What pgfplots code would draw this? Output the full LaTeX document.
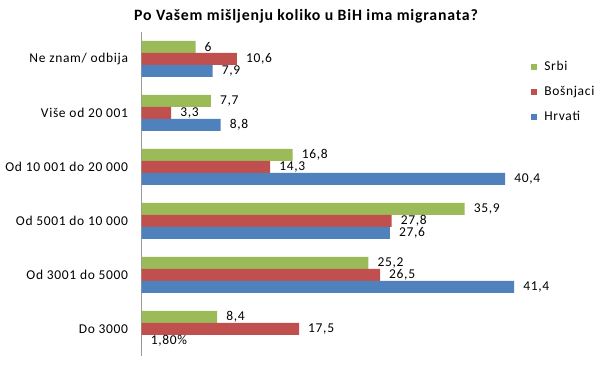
\documentclass[border=0pt]{standalone}
\usepackage{fontspec}
\setmainfont{Carlito}[LetterSpace=5]
\usepackage{pgfplots}
\pgfplotsset{compat=1.18}
\definecolor{cg}{HTML}{9BBB59}
\definecolor{cr}{HTML}{C0504D}
\definecolor{cb}{HTML}{4F81BD}
\begin{document}
\begin{tikzpicture}
\useasboundingbox (0,0) rectangle (606bp,375bp);
\node[font=\bfseries\fontsize{15.8bp}{18bp}\selectfont] at (306bp,359bp) {Po Vašem mišljenju koliko u BiH ima migranata?};
\begin{axis}[
  at={(141.5bp,19bp)}, anchor=south west,
  scale only axis, width=405bp, height=324bp,
  xmin=0, xmax=45, ymin=-0.5, ymax=5.5,
  xbar, bar width=12bp,
  axis x line=none, axis y line*=left,
  axis line style={draw=gray!80, line width=0.8bp},
  xtick=\empty,
  ytick={0,...,5},
  yticklabels={Do 3000, Od 3001 do 5000, Od 5001 do 10 000, Od 10 001 do 20 000, Više od 20 001, Ne znam/ odbija},
  ytick style={draw=none},
  yticklabel style={font=\fontsize{13.5bp}{15bp}\selectfont, anchor=east, inner sep=0pt, xshift=-9bp},
  point meta=explicit symbolic,
  nodes near coords,
  nodes near coords style={font=\fontsize{13.5bp}{15bp}\selectfont, anchor=west, inner sep=0pt, xshift=9bp, text=black},
  legend style={at={(axis description cs:0.962,0.911)}, anchor=north west, draw=none, fill=none, inner sep=0pt,
    font=\fontsize{13.5bp}{15bp}\selectfont, row sep=13bp,
    nodes={inner sep=0pt, text height=9bp, text depth=3bp},
    /tikz/every odd column/.append style={column sep=7bp}},
  legend cell align=left,
  legend image code/.code={\fill[#1,draw=none] (0bp,-3bp) rectangle (6bp,3bp);},
  clip=false,
]
\addplot[fill=cg, draw=none, bar shift=12bp] coordinates {
(6,5) [6]
(7.7,4) [7,7]
(16.8,3) [16,8]
(35.9,2) [35,9]
(25.2,1) [25,2]
(8.4,0) [8,4]
};
\addplot[fill=cr, draw=none, bar shift=0bp] coordinates {
(10.6,5) [10,6]
(3.3,4) [3,3]
(14.3,3) [14,3]
(27.8,2) [27,8]
(26.5,1) [26,5]
(17.5,0) [17,5]
};
\addplot[fill=cb, draw=none, bar shift=-12bp] coordinates {
(7.9,5) [7,9]
(8.8,4) [8,8]
(40.4,3) [40,4]
(27.6,2) [27,6]
(41.4,1) [41,4]
(0.018,0) [1,80\%]
};
\legend{Srbi, Bošnjaci, Hrvati}
\end{axis}
\end{tikzpicture}
\end{document}
